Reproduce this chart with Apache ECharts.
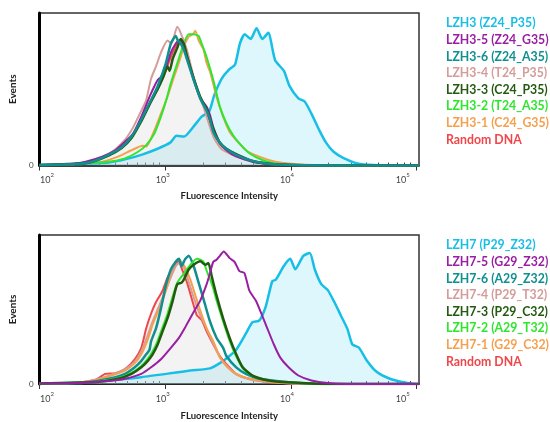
<!DOCTYPE html>
<html>
<head>
<meta charset="utf-8">
<script src="https://cdn.jsdelivr.net/npm/echarts@6.0.0/dist/echarts.min.js"></script>
<style>
  html, body { margin: 0; padding: 0; background: #fff; }
  #chart { width: 550px; height: 422px; }
</style>
</head>
<body>
<div id="chart"></div>
<script>
// x = log10(fluorescence intensity), y = events (as % of the panel height)

// top panel
const lzh3 = [[2.0,0.3],[2.29,1.0],[2.55,2.0],[2.68,4],[2.81,7],[2.94,11],[3.04,15],[3.09,19.5],[3.15,19],[3.23,26],[3.29,32],[3.35,35.5],[3.39,46],[3.45,57],[3.51,63],[3.555,66],[3.595,80],[3.633,86],[3.68,83],[3.727,90],[3.773,83],[3.82,87],[3.875,69],[3.945,62],[3.99,52],[4.06,44],[4.11,42],[4.164,34],[4.227,23],[4.28,15],[4.34,9],[4.42,4.9],[4.53,1.4],[4.656,0.3],[4.87,0],[5.02,0]];
const lzh3_5 = [[2.0,0.3],[2.289,1.5],[2.367,2.5],[2.498,5.8],[2.602,10],[2.68,15.6],[2.745,21],[2.81,32],[2.875,45],[2.914,52],[2.94,56],[2.966,58],[3.005,64],[3.045,74],[3.084,80],[3.109,82],[3.123,82],[3.148,79],[3.172,72],[3.227,57],[3.279,44],[3.33,38.6],[3.357,33],[3.383,25],[3.435,15],[3.487,10],[3.565,6],[3.695,2.5],[3.828,1],[4.03,0.3],[4.24,0],[5.02,0]];
const lzh3_6 = [[2.0,0.3],[2.289,1],[2.42,2.5],[2.549,7],[2.654,12],[2.732,19],[2.81,30],[2.888,43],[2.94,52],[3.005,67],[3.045,80],[3.084,85],[3.1,82],[3.123,80],[3.148,76],[3.172,70],[3.227,56],[3.279,44],[3.33,36],[3.357,30],[3.383,22],[3.435,15],[3.487,11],[3.565,7],[3.695,3],[3.828,1.2],[4.008,0.3],[4.24,0],[5.02,0]];
const lzh3_4 = [[2.0,0.4],[2.289,1],[2.445,3.6],[2.576,9],[2.68,17],[2.745,25],[2.81,36],[2.849,43],[2.888,57],[2.927,65],[2.966,74],[3.018,82],[3.05,80],[3.096,91],[3.123,87],[3.172,76],[3.227,58],[3.279,45],[3.33,32],[3.383,19],[3.435,12],[3.461,10],[3.565,5.8],[3.695,2.5],[3.828,1],[4.0,0.3],[4.24,0],[5.02,0]];
const lzh3_3 = [[2.0,0.3],[2.289,1],[2.42,2.5],[2.549,6.5],[2.654,11.5],[2.732,18],[2.81,29],[2.888,42],[2.94,50],[2.985,58],[3.018,65],[3.035,62],[3.06,70],[3.1,78],[3.123,83],[3.148,80],[3.172,72],[3.227,57],[3.279,45],[3.33,37],[3.383,24],[3.435,15],[3.487,11],[3.565,7.5],[3.695,3],[3.828,1.2],[4.008,0.3],[4.24,0],[5.02,0]];
const lzh3_2 = [[2.0,0.3],[2.289,1.2],[2.549,2.5],[2.68,4.7],[2.784,9],[2.849,13.4],[2.914,21],[2.966,32],[3.005,42],[3.045,54],[3.096,67],[3.148,80],[3.1875,86],[3.227,86],[3.266,85],[3.29,80],[3.33,71],[3.383,56],[3.435,38.6],[3.487,27.7],[3.539,20],[3.591,14.5],[3.67,8],[3.773,3.6],[3.877,1.4],[4.03,0.3],[4.24,0],[5.02,0]];
const lzh3_1 = [[2.0,0.3],[2.289,1],[2.498,2.5],[2.625,5.8],[2.732,10],[2.82,13],[2.849,12.5],[2.875,15.6],[2.914,23],[2.966,34],[3.018,45],[3.07,58],[3.123,71],[3.148,78],[3.1875,84.5],[3.22,86],[3.24,88.4],[3.266,82],[3.305,76],[3.33,67],[3.357,61.5],[3.409,45],[3.461,32],[3.513,22],[3.565,16.7],[3.643,10],[3.748,5.8],[3.877,2.5],[4.03,1],[4.24,0.2],[4.5,0],[5.02,0]];
const random3 = [[2.0,0.3],[2.289,1],[2.42,2.7],[2.549,7],[2.654,12],[2.732,19],[2.81,30],[2.888,43],[2.94,51],[3.005,62],[3.03,68],[3.07,76],[3.109,81],[3.13,80],[3.172,71],[3.227,56],[3.279,44],[3.33,35],[3.383,22],[3.435,14],[3.487,10.5],[3.565,7],[3.695,3],[3.828,1.2],[4.008,0.3],[4.24,0],[5.02,0]];

// bottom panel
const lzh7 = [[2.0,0.2],[2.289,0.6],[2.549,2.4],[2.81,4.6],[3.07,7.5],[3.2,9],[3.357,10.5],[3.435,14],[3.5,18],[3.565,23],[3.643,34],[3.695,41.5],[3.748,42.5],[3.8,52],[3.852,69],[3.88,70],[3.943,79],[3.995,84],[4.035,77],[4.099,86],[4.151,88],[4.19,77],[4.242,67],[4.294,63],[4.346,55],[4.398,46],[4.45,37],[4.49,26.5],[4.541,24.5],[4.607,15.5],[4.685,8],[4.789,3.5],[4.893,1.2],[4.971,0.2],[5.02,0]];
const lzh7_5 = [[2.0,0.3],[2.289,0.6],[2.549,2],[2.68,3.5],[2.81,6.8],[2.888,11.2],[2.966,16.6],[3.045,24.3],[3.109,31],[3.162,38.5],[3.227,48.4],[3.279,56],[3.33,67],[3.357,74.6],[3.383,82],[3.409,83.4],[3.435,86],[3.466,89],[3.513,84.5],[3.552,82],[3.591,75.7],[3.63,74.6],[3.67,62.6],[3.721,56],[3.76,48.4],[3.8125,37.4],[3.865,26.5],[3.916,17.7],[3.982,11.2],[4.06,5.7],[4.164,2.4],[4.294,0.6],[4.45,0],[5.02,0]];
const lzh7_6 = [[2.0,0.3],[2.393,1.3],[2.549,3.5],[2.68,6.8],[2.758,11.2],[2.81,15.5],[2.849,19.9],[2.875,23],[2.888,28.7],[2.927,37.4],[2.966,50.6],[3.005,65.9],[3.045,76.8],[3.084,82],[3.11,84],[3.13,79],[3.16,84],[3.1875,86],[3.227,79],[3.266,68],[3.305,57],[3.357,41.8],[3.409,30.9],[3.461,24.3],[3.487,18.8],[3.565,11.2],[3.643,6.8],[3.748,3.5],[3.904,1.8],[4.1,0.5],[4.3,0],[5.02,0]];
const lzh7_4 = [[2.0,0.3],[2.289,0.8],[2.445,2.8],[2.549,5.5],[2.68,10],[2.758,15],[2.81,22],[2.862,33],[2.9,42],[2.94,50],[2.979,58],[3.018,66],[3.057,74],[3.084,79],[3.109,81],[3.14,80],[3.174,72],[3.227,58],[3.279,46],[3.33,37],[3.383,27],[3.435,18],[3.487,12],[3.565,6.5],[3.67,3.2],[3.826,1.3],[4.0,0.4],[4.2,0],[5.02,0]];
const lzh7_3 = [[2.0,0.3],[2.445,1.3],[2.627,3.5],[2.732,6.8],[2.81,11.2],[2.862,15.5],[2.9,19.9],[2.94,26.5],[2.979,35.3],[3.018,44],[3.057,55],[3.096,67],[3.13,68],[3.148,70],[3.1875,76.8],[3.227,80],[3.279,82.3],[3.32,80],[3.344,81.2],[3.37,72.4],[3.409,59.3],[3.461,44],[3.513,30.9],[3.565,19.9],[3.617,11.2],[3.695,5.7],[3.826,2.4],[3.982,1.1],[4.2,0.2],[4.4,0],[5.02,0]];
const lzh7_2 = [[2.0,0.3],[2.445,1.5],[2.627,4],[2.732,7.5],[2.81,12],[2.862,17],[2.9,22],[2.94,29],[2.979,38],[3.018,47],[3.057,58],[3.096,68],[3.148,74],[3.2,80],[3.252,84],[3.279,83.4],[3.305,82],[3.33,76],[3.357,70.3],[3.383,64],[3.409,56],[3.461,42],[3.513,29],[3.565,18.5],[3.617,10.5],[3.695,5.5],[3.826,2.4],[3.982,1.1],[4.2,0.2],[4.4,0],[5.02,0]];
const lzh7_1 = [[2.0,0.3],[2.289,0.8],[2.445,2.5],[2.549,5],[2.68,9],[2.758,14],[2.81,20],[2.862,30],[2.9,40],[2.94,48],[2.966,52.7],[3.018,65.9],[3.05,76],[3.084,82.3],[3.109,83.4],[3.13,82],[3.16,78],[3.2,70],[3.266,52.7],[3.33,37.4],[3.383,28.7],[3.435,18],[3.487,12.5],[3.565,6.8],[3.67,3.5],[3.826,1.5],[4.0,0.5],[4.2,0],[5.02,0]];
const random7 = [[2.0,0.3],[2.289,0.8],[2.445,2.8],[2.523,6.8],[2.602,7.2],[2.68,10],[2.758,16.6],[2.81,24.3],[2.849,37.4],[2.888,47.3],[2.927,55],[2.979,62.6],[3.018,71.4],[3.057,76.8],[3.084,81.2],[3.109,82.3],[3.13,78],[3.174,68],[3.227,52.7],[3.252,46.2],[3.291,42.9],[3.33,35.3],[3.383,26.5],[3.435,18.8],[3.487,13.3],[3.565,6.8],[3.67,3.5],[3.826,1.3],[4.0,0.3],[4.2,0],[5.02,0]];

const topNames = ['LZH3 (Z24_P35)', 'LZH3-5 (Z24_G35)', 'LZH3-6 (Z24_A35)', 'LZH3-4 (T24_P35)',
  'LZH3-3 (C24_P35)', 'LZH3-2 (T24_A35)', 'LZH3-1 (C24_G35)', 'Random DNA'];
const bottomNames = ['LZH7 (P29_Z32)', 'LZH7-5 (G29_Z32)', 'LZH7-6 (A29_Z32)', 'LZH7-4 (P29_T32)',
  'LZH7-3 (P29_C32)', 'LZH7-2 (A29_T32)', 'LZH7-1 (G29_C32)', 'Random DNA'];
const topData = [lzh3, lzh3_5, lzh3_6, lzh3_4, lzh3_3, lzh3_2, lzh3_1, random3];
const bottomData = [lzh7, lzh7_5, lzh7_6, lzh7_4, lzh7_3, lzh7_2, lzh7_1, random7];
const colors = ['#17bfe6', '#991ea3', '#0f8f8f', '#d59c99', '#235a10', '#2ee62e', '#f5a04e', '#f0464a'];

// decade ticks, and where the 10^n labels sit (a little off the ticks, like the original)
const majorTicks = [2, 3, 4, 5];
const labelAt = [2.06, 2.98, 3.97, 4.89];
const minorTicks = [];
[2, 3, 4].forEach(function (d) {
  for (let m = 2; m <= 9; m++) minorTicks.push(d + Math.log10(m));
});

const xMin = 2, xMax = 5.02;
const font = 'Lato';

function xAxesFor(gridIndex, gap) {
  return [{
    type: 'value', gridIndex: gridIndex, min: xMin, max: xMax,
    axisLine: { show: true, onZero: false, lineStyle: { color: '#111', width: 1.5 } },
    axisTick: { show: true, customValues: majorTicks, length: 5, lineStyle: { color: '#333' } },
    axisLabel: {
      customValues: labelAt, margin: 7, color: '#444', fontSize: 9, lineHeight: 16, fontFamily: font,
      formatter: function (v) { return '10{s|' + Math.round(v) + '}'; },
      rich: { s: { fontSize: 6, lineHeight: 6, verticalAlign: 'top', color: '#444', fontFamily: font } }
    },
    splitLine: { show: false },
    name: 'FLuorescence Intensity', nameLocation: 'middle', nameGap: gap,
    nameTextStyle: { fontFamily: font, fontWeight: 'bold', fontSize: 9.5, color: '#222' }
  }, {
    type: 'value', gridIndex: gridIndex, min: xMin, max: xMax,
    axisLine: { show: false },
    axisTick: { show: true, customValues: minorTicks, length: 3, lineStyle: { color: '#444' } },
    axisLabel: { show: false },
    splitLine: { show: false }
  }];
}

function yAxisFor(gridIndex) {
  return {
    type: 'value', gridIndex: gridIndex, min: 0, max: 100, interval: 100,
    axisLine: { show: true, lineStyle: { color: '#000', width: 3 } },
    axisTick: { show: false },
    axisLabel: { formatter: function (v) { return v === 0 ? '0' : ''; }, color: '#444', fontSize: 8, margin: 6, fontFamily: font },
    splitLine: { show: false },
    name: 'Events', nameLocation: 'middle', nameGap: 12,
    nameTextStyle: { fontFamily: font, fontWeight: 'bold', fontSize: 10, color: '#222' }
  };
}

function panelSeries(names, data, order, xIdx, yIdx) {
  return order.map(function (i) {
    const s = {
      type: 'line', name: names[i], xAxisIndex: xIdx, yAxisIndex: yIdx,
      data: data[i], showSymbol: false, symbol: 'none', smooth: 0.2, silent: true,
      lineStyle: { color: colors[i], width: (i === 0 || i === 2 || i === 4) ? 2.5 : 2 },
      itemStyle: { color: colors[i] }
    };
    if (i === 0) s.areaStyle = { color: 'rgba(150,230,245,0.45)' };
    if (i === 7) s.areaStyle = { color: 'rgba(200,200,200,0.3)' };
    return s;
  });
}

function legendFor(names, top) {
  return {
    orient: 'vertical', left: 441, top: top, padding: 0, icon: 'none', itemWidth: 0, itemHeight: 10,
    itemGap: 2.6, selectedMode: false,
    textStyle: { fontFamily: font, fontWeight: 'bold', fontSize: 12.3, lineHeight: 14 },
    data: names.map(function (n, i) { return { name: n, textStyle: { color: colors[i] } }; })
  };
}

const chart = echarts.init(document.getElementById('chart'));
chart.setOption({
  animation: false,
  backgroundColor: '#fff',
  grid: [
    { left: 33, top: 13, width: 386, height: 152.5, show: true, borderColor: '#333', borderWidth: 1.5 },
    { left: 33, top: 235, width: 386, height: 152, show: true, borderColor: '#333', borderWidth: 1.5 }
  ],
  xAxis: xAxesFor(0, 25).concat(xAxesFor(1, 27)),
  yAxis: [yAxisFor(0), yAxisFor(1)],
  legend: [legendFor(topNames, 16.4), legendFor(bottomNames, 238.4)],
  series: panelSeries(topNames, topData, [0, 7, 6, 5, 3, 1, 4, 2], 0, 0)
    .concat(panelSeries(bottomNames, bottomData, [0, 7, 3, 6, 2, 5, 4, 1], 2, 1))
});
</script>
</body>
</html>
